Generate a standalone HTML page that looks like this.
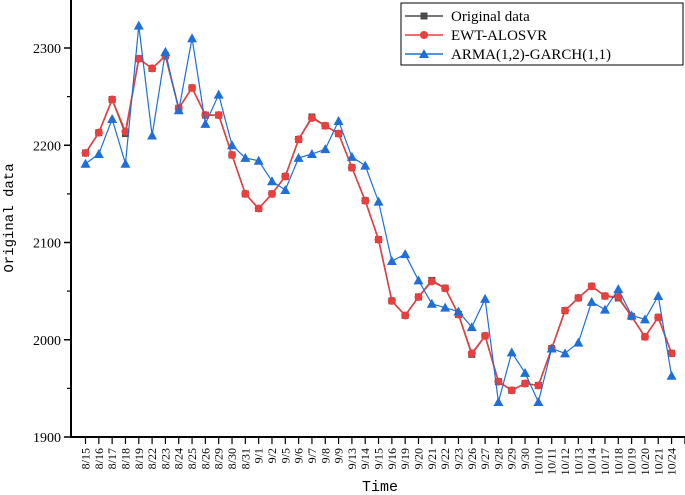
<!DOCTYPE html>
<html><head><meta charset="utf-8"><style>
body{margin:0;background:#fff;}
svg{display:block;font-family:"Liberation Serif","Noto Serif CJK SC",serif;}
</style></head><body>
<svg id="chart" width="685" height="495"></svg>
<script>
const categories=["8/15","8/16","8/17","8/18","8/19","8/22","8/23","8/24","8/25","8/26","8/29","8/30","8/31","9/1","9/2","9/5","9/6","9/7","9/8","9/9","9/13","9/14","9/15","9/16","9/19","9/20","9/21","9/22","9/23","9/26","9/27","9/28","9/29","9/30","10/10","10/11","10/12","10/13","10/14","10/17","10/18","10/19","10/20","10/21","10/24"];
const originalData=[2192,2213,2247,2212,2289,2279,2292,2238,2259,2231,2231,2190,2150,2135,2150,2168,2206,2229,2220,2212,2177,2143,2103,2040,2025,2044,2061,2053,2026,1985,2004,1957,1948,1955,1953,1991,2030,2043,2055,2045,2043,2024,2003,2023,1986];
const ewtAlosvr=[2192,2213,2247,2214,2289,2279,2292,2238,2259,2231,2231,2190,2150,2135,2150,2168,2206,2228,2220,2212,2177,2143,2103,2040,2025,2044,2060,2053,2026,1986,2004,1957,1948,1955,1953,1991,2030,2043,2055,2045,2044,2024,2003,2023,1986];
const armaGarch=[2181,2191,2227,2181,2323,2210,2296,2236,2310,2222,2252,2200,2187,2184,2163,2154,2187,2191,2196,2225,2188,2179,2142,2081,2088,2061,2037,2033,2029,2013,2042,1936,1987,1966,1936,1991,1986,1997,2039,2031,2052,2025,2021,2045,1963];
const yTicks=[1900,2000,2100,2200,2300];

const NS="http://www.w3.org/2000/svg";
const svg=document.getElementById('chart');
const x0=71,y0=437,xStep=13.32,xFirst=85.5;
function xs(i){return xFirst+i*xStep;}
function ys(v){return y0-(v-1900)*0.9725;}
function mk(t,a,p){const e=document.createElementNS(NS,t);for(const k in a)e.setAttribute(k,a[k]);(p||svg).appendChild(e);return e;}

const axes=mk('g',{});


mk('line',{x1:x0,y1:0,x2:x0,y2:y0+1,stroke:'#000','stroke-width':2},axes);
mk('line',{x1:x0-1,y1:y0,x2:685,y2:y0,stroke:'#000','stroke-width':2},axes);
yTicks.forEach(v=>{
  mk('line',{x1:x0-7,y1:ys(v),x2:x0,y2:ys(v),stroke:'#000','stroke-width':1.5},axes);
  const t=mk('text',{x:x0-10,y:ys(v)+5,'text-anchor':'end','font-size':14},axes);
  t.textContent=v;
  
  
});
for(let v=1950;v<2350;v+=100){mk('line',{x1:x0-4,y1:ys(v),x2:x0,y2:ys(v),stroke:'#000','stroke-width':1.2},axes);}
for(let i=0;i<=categories.length;i++){mk('line',{x1:xs(i),y1:y0,x2:xs(i),y2:y0+7,stroke:'#000','stroke-width':1.2},axes);}
categories.forEach((c,i)=>{
  const t=mk('text',{transform:`translate(${xs(i)+4},${y0+11}) rotate(-90)`,'text-anchor':'end','font-size':12},axes);
  t.textContent=c;
  
  
});
const xt=mk('text',{x:380,y:491,'text-anchor':'middle','font-size':15,'font-family':'Liberation Mono, monospace'});
xt.textContent='Time';


const yt=mk('text',{transform:'translate(13,218) rotate(-90)','text-anchor':'middle','font-size':14,'font-family':'Liberation Mono, monospace'});
yt.textContent='Original data';



function series(data,color,shape,name,w){
  const g=mk('g',{});
  
  
  mk('polyline',{points:data.map((v,i)=>xs(i)+','+ys(v)).join(' '),fill:'none',stroke:color,'stroke-width':w},g);
  data.forEach((v,i)=>{
    const x=xs(i),y=ys(v);let m;
    if(shape==='sq')m=mk('rect',{x:x-3.5,y:y-3.5,width:7,height:7,fill:color},g);
    else if(shape==='ci')m=mk('circle',{cx:x,cy:y,r:4,fill:color},g);
    else m=mk('polygon',{points:`${x},${y-5} ${x-5},${y+4} ${x+5},${y+4}`,fill:color},g);
    
    
  });
}
series(originalData,'#4a4a4a','sq','original-data-series',1.5);
series(ewtAlosvr,'#e8403f','ci','ewt-alosvr-series',1.5);
series(armaGarch,'#1f6fd6','tri','arma-garch-series',1.2);

const lg=mk('g',{});


mk('rect',{x:401,y:3,width:282,height:62,fill:'#fff',stroke:'#000','stroke-width':1},lg);
const items=[['Original data','#4a4a4a','sq'],['EWT-ALOSVR','#e8403f','ci'],['ARMA(1,2)-GARCH(1,1)','#1f6fd6','tri']];
items.forEach((it,k)=>{
  const y=16+k*19;
  mk('line',{x1:405,y1:y,x2:443,y2:y,stroke:it[1],'stroke-width':1.5},lg);
  const cx=424;
  if(it[2]==='sq')mk('rect',{x:cx-3.5,y:y-3.5,width:7,height:7,fill:it[1]},lg);
  else if(it[2]==='ci')mk('circle',{cx:cx,cy:y,r:4,fill:it[1]},lg);
  else mk('polygon',{points:`${cx},${y-5} ${cx-5},${y+4} ${cx+5},${y+4}`,fill:it[1]},lg);
  const t=mk('text',{x:451,y:y+5,'font-size':15},lg);
  t.textContent=it[0];
  
  
});
</script>
</body></html>
